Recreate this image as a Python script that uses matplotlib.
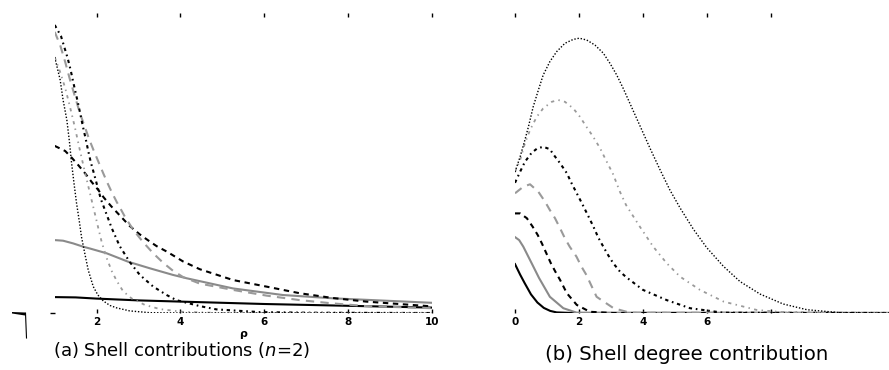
import matplotlib
matplotlib.use("Agg")
import matplotlib.pyplot as plt
from matplotlib.lines import Line2D
from matplotlib.patches import Polygon

# ---------------- data: panel (a) shell contributions (n=2), x = rho ----------------
a_solid_black_x = [1, 1.5, 2, 3, 4, 5, 6, 7, 8, 9, 10]
a_solid_black_y = [0.053, 0.052, 0.048, 0.042, 0.038, 0.034, 0.030, 0.027, 0.024, 0.021, 0.018]

a_solid_gray_x = [1.0, 1.2, 1.44, 1.68, 1.84, 2.24, 2.75, 3.27, 3.82, 4.14, 5.25, 6.44, 7.63, 10]
a_solid_gray_y = [0.243, 0.241, 0.232, 0.221, 0.215, 0.199, 0.171, 0.149, 0.127, 0.116, 0.082, 0.060, 0.049, 0.034]

a_dash_black_x = [1.0, 1.25, 1.41, 1.58, 1.74, 1.88, 2.04, 2.17, 2.34, 2.50, 2.79, 3.03, 3.22, 3.43,
                  3.67, 3.86, 4.06, 4.46, 5.25, 6.05, 6.84, 7.63, 8.43, 10]
a_dash_black_y = [0.557, 0.540, 0.517, 0.490, 0.463, 0.437, 0.410, 0.385, 0.357, 0.333, 0.290, 0.262,
                  0.243, 0.223, 0.205, 0.189, 0.172, 0.146, 0.110, 0.088, 0.066, 0.050, 0.038, 0.022]

a_dash_gray_x = [1.0, 1.13, 1.25, 1.36, 1.48, 1.60, 1.72, 1.82, 1.92, 2.04, 2.16, 2.26, 2.36, 2.48,
                 2.60, 2.67, 2.87, 3.11, 3.35, 3.59, 3.82, 4.06, 4.46, 5.25, 6.05, 6.84, 7.63, 8.43, 10]
a_dash_gray_y = [0.937, 0.893, 0.837, 0.780, 0.723, 0.667, 0.620, 0.580, 0.545, 0.505, 0.465, 0.433,
                 0.403, 0.370, 0.340, 0.322, 0.278, 0.236, 0.199, 0.167, 0.141, 0.120, 0.098, 0.077,
                 0.058, 0.043, 0.032, 0.023, 0.016]

a_dashdot_black_x = [1.0, 1.15, 1.23, 1.31, 1.38, 1.44, 1.49, 1.56, 1.62, 1.68, 1.74, 1.80, 1.86, 1.94,
                     2.10, 2.36, 2.55, 2.79, 3.03, 3.35, 3.67, 3.90, 4.46, 4.86, 5.89, 7, 10]
a_dashdot_black_y = [0.960, 0.923, 0.886, 0.849, 0.810, 0.771, 0.740, 0.697, 0.657, 0.617, 0.580, 0.540,
                     0.503, 0.463, 0.380, 0.283, 0.223, 0.170, 0.127, 0.088, 0.060, 0.043, 0.023, 0.012,
                     0.003, 0.001, 0]

a_dashdot_gray_x = [1.0, 1.13, 1.25, 1.36, 1.48, 1.60, 1.72, 1.84, 1.96, 2.04, 2.12, 2.24, 2.36, 2.48,
                    2.63, 2.83, 3.15, 3.51, 4.05, 4.94, 10]
a_dashdot_gray_y = [0.853, 0.803, 0.750, 0.690, 0.620, 0.543, 0.470, 0.400, 0.330, 0.283, 0.237, 0.183,
                    0.140, 0.107, 0.073, 0.049, 0.027, 0.013, 0.004, 0, 0]

a_dot_black_x = [1.0, 1.13, 1.20, 1.29, 1.35, 1.40, 1.46, 1.52, 1.59, 1.64, 1.72, 1.80, 1.92, 2.03,
                 2.16, 2.32, 2.48, 2.79, 3.27, 4, 10]
a_dot_black_y = [0.853, 0.777, 0.710, 0.643, 0.573, 0.503, 0.433, 0.367, 0.303, 0.253, 0.197, 0.143,
                 0.088, 0.060, 0.040, 0.025, 0.017, 0.007, 0.001, 0, 0]

a_xticks = [2, 4, 6, 8, 10]
a_xticklabels = ["2", "4", "6", "8", "10"]

# ---------------- data: panel (b) shell degree contribution ----------------
b_solid_black_x = [0, 0.16, 0.30, 0.50, 0.70, 0.90, 1.10, 1.30, 1.80, 12]
b_solid_black_y = [0.163, 0.128, 0.100, 0.062, 0.035, 0.017, 0.007, 0.002, 0, 0]

b_solid_gray_x = [0, 0.13, 0.26, 0.52, 0.75, 1.09, 1.51, 1.93, 12]
b_solid_gray_y = [0.253, 0.243, 0.221, 0.166, 0.117, 0.054, 0.016, 0.001, 0]

b_dash_black_x = [0, 0.16, 0.37, 0.55, 0.71, 0.84, 0.98, 1.12, 1.26, 1.41, 1.62, 1.93, 2.34, 3.06, 12]
b_dash_black_y = [0.332, 0.332, 0.316, 0.288, 0.260, 0.232, 0.199, 0.166, 0.138, 0.110, 0.066, 0.027,
                  0.004, 0, 0]

b_dash_gray_x = [0, 0.26, 0.47, 0.73, 0.94, 1.09, 1.25, 1.41, 1.56, 1.71, 1.92, 2.08, 2.23, 2.55,
                 3.08, 3.59, 12]
b_dash_gray_y = [0.399, 0.421, 0.429, 0.404, 0.371, 0.343, 0.316, 0.282, 0.249, 0.221, 0.188, 0.154,
                 0.127, 0.054, 0.016, 0.001, 0]

b_dashdot_black_x = [0, 0.16, 0.31, 0.52, 0.70, 0.885, 1.09, 1.19, 1.41, 1.62, 1.77, 1.93, 2.09, 2.29,
                     2.45, 2.60, 2.76, 2.91, 3.07, 3.28, 3.48, 4.0, 4.74, 5.47, 6.5, 12]
b_dashdot_black_y = [0.434, 0.471, 0.504, 0.534, 0.549, 0.554, 0.546, 0.530, 0.499, 0.466, 0.432, 0.399,
                     0.366, 0.323, 0.288, 0.252, 0.221, 0.193, 0.166, 0.138, 0.119, 0.077, 0.043, 0.016,
                     0.001, 0]

b_dashdot_gray_x = [0, 0.16, 0.31, 0.47, 0.68, 0.88, 1.15, 1.35, 1.56, 1.82, 2.03, 2.23, 2.44, 2.66,
                    2.84, 3.06, 3.28, 3.47, 3.9, 4.32, 4.74, 5.16, 5.78, 6.52, 7.56, 8.6, 12]
b_dashdot_gray_y = [0.470, 0.510, 0.566, 0.610, 0.654, 0.682, 0.704, 0.710, 0.704, 0.682, 0.654, 0.621,
                    0.588, 0.549, 0.510, 0.464, 0.404, 0.360, 0.288, 0.221, 0.166, 0.121, 0.077, 0.038,
                    0.010, 0.001, 0]

b_dot_black_x = [0, 0.16, 0.31, 0.42, 0.57, 0.73, 0.88, 1.09, 1.30, 1.56, 1.82, 2.01, 2.24, 2.50, 2.76,
                 2.97, 3.18, 3.38, 3.59, 3.80, 4.01, 4.22, 4.53, 4.84, 5.16, 5.57, 5.99, 6.51, 7.03,
                 7.66, 8.38, 9.12, 10.16, 12]
b_dot_black_y = [0.470, 0.521, 0.577, 0.621, 0.688, 0.743, 0.793, 0.838, 0.871, 0.899, 0.912, 0.916,
                 0.910, 0.893, 0.866, 0.832, 0.793, 0.749, 0.699, 0.649, 0.599, 0.549, 0.478, 0.410,
                 0.350, 0.280, 0.218, 0.156, 0.105, 0.063, 0.030, 0.011, 0.001, 0]

b_xticks = [0, 2, 4, 6, 8]
b_xticklabels = ["0", "2", "4", "6", ""]

# ---------------- styles ----------------
GRAY = "#8a8a8a"
LGRAY = "#9a9a9a"
styles = [
    dict(color="black", lw=1.5, ls="-"),
    dict(color=GRAY, lw=1.5, ls="-"),
    dict(color="black", lw=1.5, ls=(0, (2.6, 2.2))),
    dict(color=LGRAY, lw=1.5, ls=(0, (4.0, 3.0))),
    dict(color="black", lw=1.5, ls=(0, (1.6, 1.8, 0.8, 1.8))),
    dict(color=LGRAY, lw=1.3, ls=(0, (1.8, 2.4, 0.8, 2.4))),
    dict(color="black", lw=1.0, ls=(0, (1.0, 1.3))),
]

W, H = 889, 370
fig = plt.figure(figsize=(W / 100, H / 100), dpi=100)


def px_rect(x0, x1, ytop, ybot):
    return [x0 / W, 1 - ybot / H, (x1 - x0) / W, (ybot - ytop) / H]


axA = fig.add_axes(px_rect(54.7, 432, 13, 313))
axB = fig.add_axes(px_rect(515, 889, 13, 313))

a_series = [(a_solid_black_x, a_solid_black_y), (a_solid_gray_x, a_solid_gray_y),
            (a_dash_black_x, a_dash_black_y), (a_dash_gray_x, a_dash_gray_y),
            (a_dashdot_black_x, a_dashdot_black_y), (a_dashdot_gray_x, a_dashdot_gray_y),
            (a_dot_black_x, a_dot_black_y)]
b_series = [(b_solid_black_x, b_solid_black_y), (b_solid_gray_x, b_solid_gray_y),
            (b_dash_black_x, b_dash_black_y), (b_dash_gray_x, b_dash_gray_y),
            (b_dashdot_black_x, b_dashdot_black_y), (b_dashdot_gray_x, b_dashdot_gray_y),
            (b_dot_black_x, b_dot_black_y)]

for (x, y), st in zip(a_series, styles):
    axA.plot(x, y, **st)
for (x, y), st in zip(b_series, styles):
    axB.plot(x, y, **st)

tick_font = dict(fontsize=7.5, fontweight="bold", family="DejaVu Sans")

for ax in (axA, axB):
    for s in ax.spines.values():
        s.set_visible(False)
    ax.set_ylim(0, 1)
    ax.tick_params(axis="x", which="both", direction="in", length=3.2, width=1.0,
                   top=True, bottom=True, labeltop=False, pad=3)
    ax.patch.set_alpha(0)

axA.set_xlim(1, 10)
axA.set_xticks(a_xticks)
axA.set_xticklabels(a_xticklabels, **tick_font)
axA.set_yticks([0])
axA.set_yticklabels([""])
axA.tick_params(axis="y", direction="out", length=3.5, width=1.0, left=True, right=False)
axA.set_xlabel("ρ", fontsize=8, fontweight="bold", labelpad=1.5)

axB.set_xlim(0, (889 - 515) / 32)
axB.set_xticks(b_xticks)
axB.set_xticklabels(b_xticklabels, **tick_font)
axB.set_yticks([])

# captions
fig.text(182 / W, 1 - 350 / H, "(a) Shell contributions ($n$=2)", ha="center", va="center",
         fontsize=13, family="DejaVu Sans")
fig.text(687 / W, 1 - 355 / H, "(b) Shell degree contribution", ha="center", va="center",
         fontsize=14.2, family="DejaVu Sans")

# small stray mark at the lower-left corner of the reference
fig.add_artist(Polygon([(12 / W, 1 - 312 / H), (25 / W, 1 - 312.5 / H), (25 / W, 1 - 315.5 / H),
                        (12 / W, 1 - 313.5 / H)], closed=True, transform=fig.transFigure,
                       color="black", lw=0))
fig.add_artist(Line2D([25.5 / W, 26.5 / W], [1 - 313 / H, 1 - 338 / H], transform=fig.transFigure,
                      color="black", lw=0.8))

fig.savefig("out.png", dpi=100)
